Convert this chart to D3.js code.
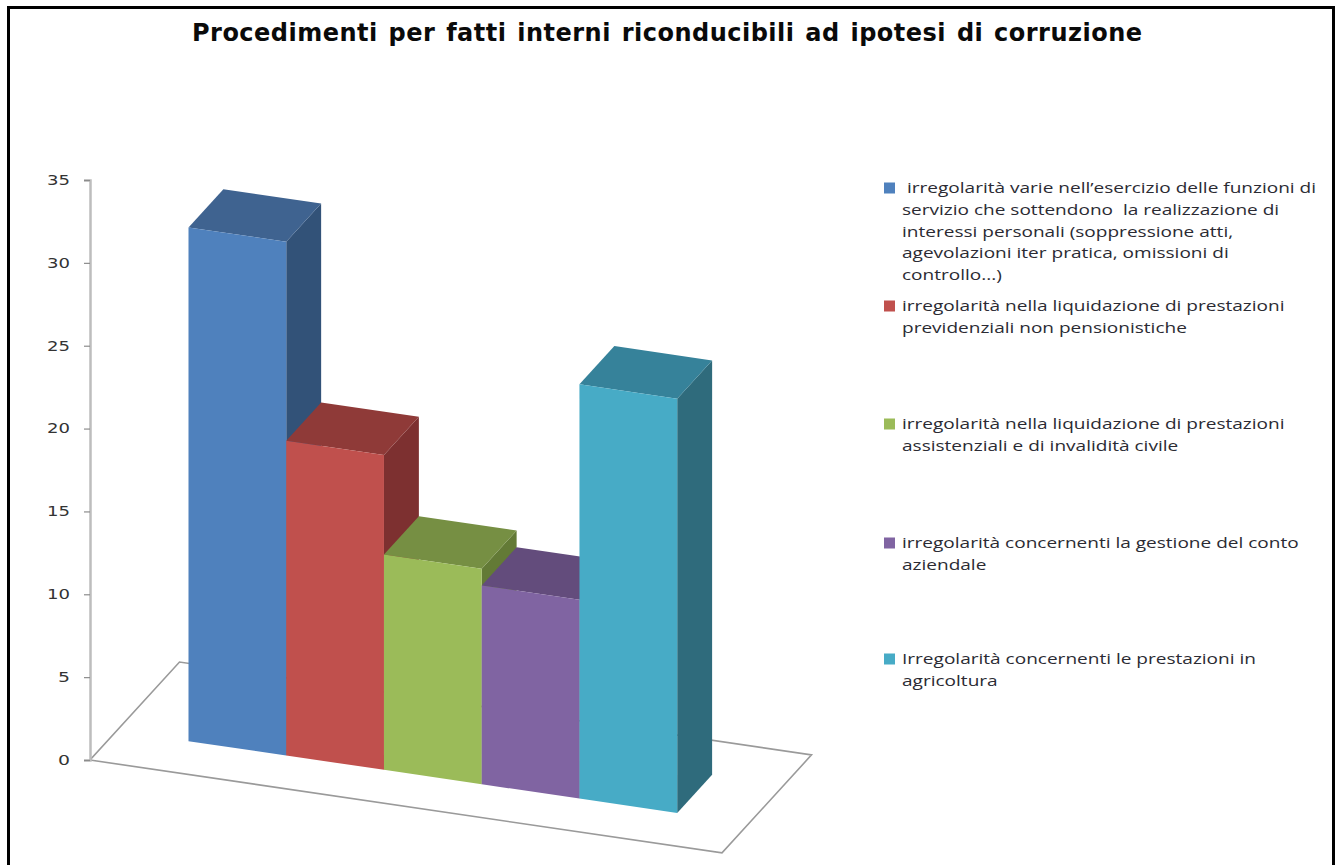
<!DOCTYPE html>
<html>
<head>
<meta charset="utf-8">
<script src="https://cdn.jsdelivr.net/npm/d3@7"></script>
<style>
  html, body { margin: 0; padding: 0; background: #fff; overflow: hidden; }
  svg { display: block; }
</style>
</head>
<body>
<svg id="chart" width="1341" height="865"></svg>
<script>
// Values
const categories = ["varie", "previdenziali", "assistenziali", "conto", "agricoltura"];
const values = [31, 19, 13, 12, 25];
const yTicks = [0, 5, 10, 15, 20, 25, 30, 35];
const title = "Procedimenti per fatti interni riconducibili ad ipotesi di corruzione";

const frontColors = ["#4f81bd", "#c0504d", "#9bbb59", "#8064a2", "#47abc6"];
const topColors = ["#3f6390", "#8f3a38", "#768f43", "#634c7c", "#36829a"];
const sideColors = ["#325278", "#7d3030", "#637a36", "#53406b", "#2f6b7c"];

const legendLines = [
    [" irregolarità varie nell’esercizio delle funzioni di", "servizio che sottendono  la realizzazione di", "interessi personali (soppressione atti,", "agevolazioni iter pratica, omissioni di", "controllo...)"],
    ["irregolarità nella liquidazione di prestazioni", "previdenziali non pensionistiche"],
    ["irregolarità nella liquidazione di prestazioni", "assistenziali e di invalidità civile"],
    ["irregolarità concernenti la gestione del conto", "aziendale"],
    ["Irregolarità concernenti le prestazioni in", "agricoltura"]
];
const legendTops = [188, 306, 424, 543, 659];

const svg = d3.select("#chart");

// frame, cut by the bottom of the picture
svg.append("path")
    .attr("d", "M8.5,865V7.5H1333.5V865")
    .attr("fill", "none")
    .attr("stroke", "#000")
    .attr("stroke-width", 3);

svg.append("text")
    .attr("x", 192)
    .attr("y", 41)
    .attr("textLength", 950)
    .attr("lengthAdjust", "spacing")
    .attr("font-family", "'DejaVu Sans'")
    .attr("font-weight", "bold")
    .attr("font-size", 24)
    .attr("fill", "#0a0a0a")
    .style("word-spacing", "2px")
    .text(title);

// scales
const y = d3.scaleLinear().domain([0, 35]).range([760, 180]);
const x = d3.scaleBand().domain(categories).range([90, 722]).paddingInner(0).paddingOuter(0.733);
const skew = 0.147;
const depthX = d3.scaleLinear().domain([0, 1]).range([0, 89.5]);
const depthY = d3.scaleLinear().domain([0, 1]).range([0, -98]);
const barDepth = [0.30, 0.69];

// oblique projection: position along the floor, depth, value
function project(px, d, v) {
    return [px + depthX(d), y(v) + skew * (px - x.range()[0]) + depthY(d)];
}
const poly = pts => "M" + pts.map(p => p.join(",")).join("L") + "Z";

// floor
const [x0, x1] = x.range();
svg.append("path")
    .attr("d", poly([project(x0, 0, 0), project(x1, 0, 0), project(x1, 1, 0), project(x0, 1, 0)]))
    .attr("fill", "#fff")
    .attr("stroke", "#9a9a9a")
    .attr("stroke-width", 1.6);

// axis
const axis = svg.append("g")
    .attr("transform", "translate(90,0)")
    .call(d3.axisLeft(y).tickValues(yTicks).tickSize(6).tickPadding(14));
axis.select(".domain").attr("stroke", "#bdbdbd").attr("stroke-width", 2.5);
axis.selectAll(".tick line").attr("stroke", "#8c8c8c").attr("stroke-width", 1.2);
axis.selectAll(".tick text")
    .attr("font-family", "'DejaVu Sans'")
    .attr("font-size", 13.5)
    .attr("fill", "#333")
    .attr("textLength", d => d < 10 ? 12 : 23)
    .attr("lengthAdjust", "spacingAndGlyphs");

// bars, painted left to right so each one covers the side of the one before
const bars = svg.append("g").selectAll("g")
    .data(categories)
    .enter()
    .append("g");

bars.each(function (c, i) {
    const g = d3.select(this);
    const l = x(c), r = x(c) + x.bandwidth();
    const [d0, d1] = barDepth;
    const v = values[i];
    g.append("path")
        .attr("d", poly([project(r, d0, 0), project(r, d1, 0), project(r, d1, v), project(r, d0, v)]))
        .attr("fill", sideColors[i]);
    g.append("path")
        .attr("d", poly([project(l, d0, v), project(r, d0, v), project(r, d1, v), project(l, d1, v)]))
        .attr("fill", topColors[i]);
    g.append("path")
        .attr("d", poly([project(l, d0, 0), project(r, d0, 0), project(r, d0, v), project(l, d0, v)]))
        .attr("fill", frontColors[i]);
});

// legend
const legend = svg.append("g").selectAll("g")
    .data(legendLines)
    .enter()
    .append("g")
    .attr("transform", (d, i) => `translate(884,${legendTops[i]})`);

legend.append("rect")
    .attr("y", -5.5)
    .attr("width", 11)
    .attr("height", 11)
    .attr("fill", (d, i) => frontColors[i]);

// the legend type is stretched sideways in the picture
legend.selectAll("text")
    .data(d => d)
    .enter()
    .append("text")
    .attr("transform", (d, i) => `translate(18,${i * 21.8 + 5}) scale(1.27,1)`)
    .attr("font-family", "'Open Sans'")
    .attr("font-size", 15)
    .attr("fill", "#2b2b33")
    .style("white-space", "pre")
    .text(d => d);
</script>
</body>
</html>
